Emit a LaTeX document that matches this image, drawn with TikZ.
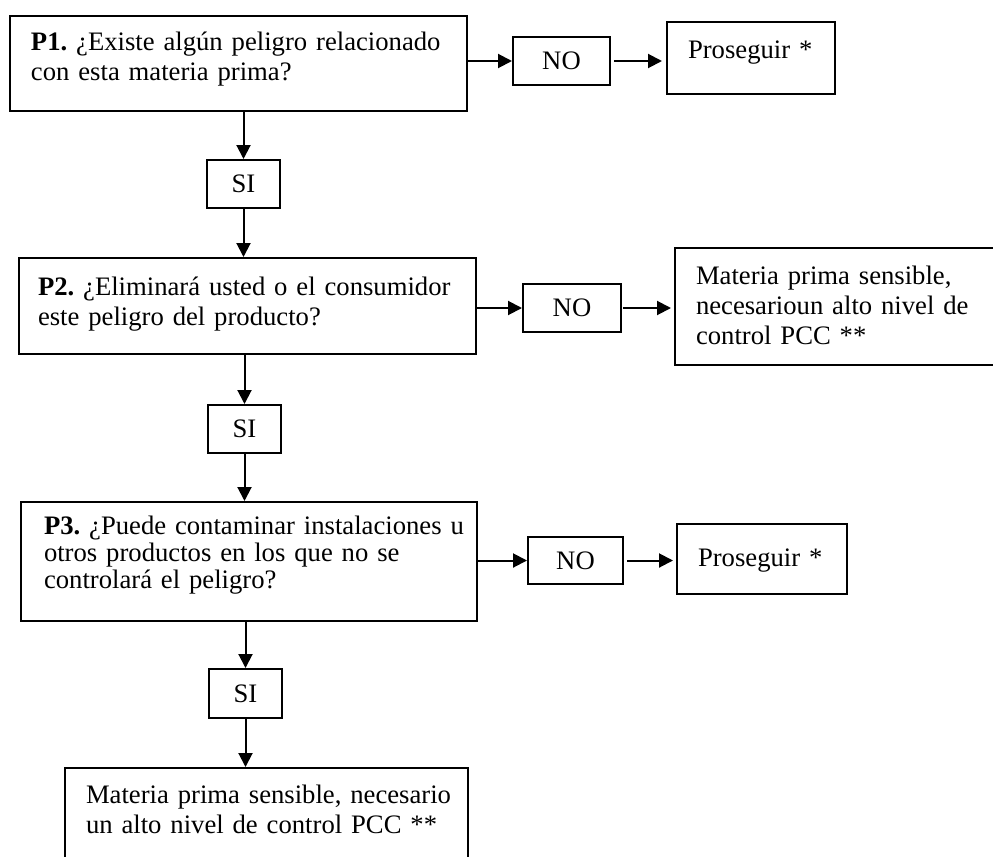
\documentclass[tikz,border=0pt]{standalone}
\usepackage{fontspec}
\setmainfont{Liberation Serif}
\usetikzlibrary{arrows.meta}
\frenchspacing

% one drawing unit = one pixel of the 993 x 857 canvas
\newdimen\pxu \pxu=0.75pt
% struts fixing the gap above the first baseline and below the last one
\newcommand{\tgap}[1]{\rule{0pt}{#1\pxu}}
\newcommand{\bgap}[1]{\rule[-#1\pxu]{0pt}{#1\pxu}}

\begin{document}
\begin{tikzpicture}[x=0.75pt, y=-0.75pt,
  font=\fontsize{20}{22.5}\selectfont\frenchspacing,
  qbox/.style={draw=black, line width=1.5pt, rectangle,
               anchor=north west, inner ysep=0pt, inner xsep=21\pxu},
  tagbox/.style={draw=black, line width=1.5pt, rectangle, inner sep=0pt},
  flow/.style={line width=1.5pt, -{Triangle[length=10.5pt, width=10.5pt]}}]

\useasboundingbox (0,0) rectangle (993,857);
\clip (0,0) rectangle (993,857);

% ---- question 1 ----
\node[qbox, text width=415\pxu] (p1) at (9,15)
  {\tgap{34}\mbox{\textbf{P1.} ¿Existe algún peligro relacionado}\\
   con esta materia prima?\bgap{31}};
\node[tagbox, minimum width=97\pxu, minimum height=48\pxu] (no1) at (561.5,61) {NO};
\node[qbox, text width=126\pxu] (go1) at (666,21) {\tgap{36}Proseguir *\bgap{36}};
\node[tagbox, minimum width=73\pxu, minimum height=48\pxu] (si1) at (243.5,184) {SI};

% ---- question 2 ----
\node[qbox, inner xsep=19\pxu, text width=419\pxu] (p2) at (18,257)
  {\tgap{37}\mbox{\textbf{P2.} ¿Eliminará usted o el consumidor}\\
   este peligro del producto?\bgap{29}};
\node[tagbox, minimum width=98\pxu, minimum height=48\pxu] (no2) at (572,308) {NO};
\node[qbox, text width=294\pxu] (crit2) at (674,247)
  {\tgap{36}Materia prima sensible,\\
   \mbox{necesarioun alto nivel de}\\
   control PCC **\bgap{21}};
\node[tagbox, minimum width=73\pxu, minimum height=48\pxu] (si2) at (244.5,429) {SI};

% ---- question 3 ----
\node[qbox, inner xsep=23\pxu, text width=410\pxu,
      font=\fontsize{20}{20.6}\selectfont\frenchspacing] (p3) at (20,501)
  {\tgap{32}\mbox{\textbf{P3.} ¿Puede contaminar instalaciones u}\\
   \mbox{otros productos en los que no se}\\
   controlará el peligro?\bgap{32}};
\node[tagbox, minimum width=95\pxu, minimum height=47\pxu] (no3) at (575.5,560.5) {NO};
\node[qbox, text width=128\pxu] (go2) at (676,523) {\tgap{42}Proseguir *\bgap{28}};
\node[tagbox, minimum width=73\pxu, minimum height=49\pxu] (si3) at (245.5,693.5) {SI};

% ---- outcome ----
\node[qbox, text width=361\pxu] (fin) at (64,767)
  {\tgap{35}\mbox{Materia prima sensible, necesario}\\
   \mbox{un alto nivel de control PCC **}\bgap{100}};

% ---- connectors ----
\draw[flow] (p1.east |- no1.west) -- (no1.west);
\draw[flow, shorten <=3\pxu, shorten >=4\pxu] (no1.east) -- (no1.east -| go1.west);
\draw[flow] (si1.north |- p1.south) -- (si1.north);
\draw[flow] (si1.south) -- (si1.south |- p2.north);

\draw[flow] (p2.east |- no2.west) -- (no2.west);
\draw[flow, shorten <=1\pxu, shorten >=3\pxu] (no2.east) -- (no2.east -| crit2.west);
\draw[flow] (si2.north |- p2.south) -- (si2.north);
\draw[flow] (si2.south) -- (si2.south |- p3.north);

\draw[flow] (p3.east |- no3.west) -- (no3.west);
\draw[flow, shorten <=3\pxu, shorten >=3\pxu] (no3.east) -- (no3.east -| go2.west);
\draw[flow] (si3.north |- p3.south) -- (si3.north);
\draw[flow] (si3.south) -- (si3.south |- fin.north);
\end{tikzpicture}
\end{document}
